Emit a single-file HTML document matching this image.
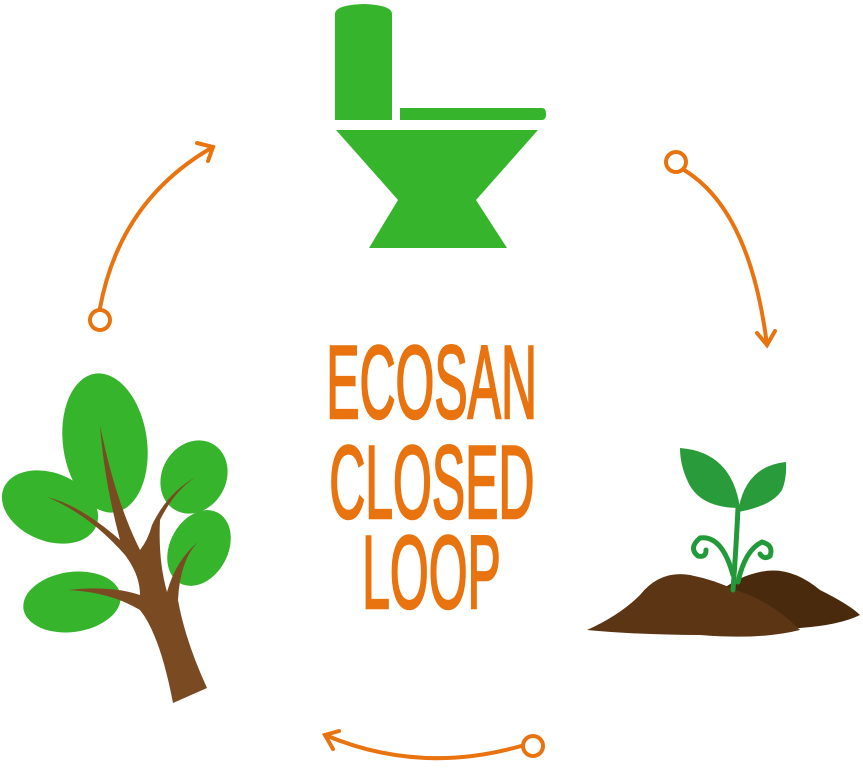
<!DOCTYPE html>
<html><head><style>
html,body{margin:0;padding:0;background:#fff;}
body{width:863px;height:770px;position:relative;overflow:hidden;}
.t{position:absolute;left:0;width:863px;text-align:center;font-family:"Liberation Sans",sans-serif;font-weight:normal;color:#e8730f;font-size:104px;line-height:1;-webkit-text-stroke:2.5px #e8730f;}
.t span{display:inline-block;transform:scaleX(0.48);transform-origin:center;}
</style></head><body>
<svg width="863" height="770" style="position:absolute;left:0;top:0">
<!-- toilet -->
<g fill="#36b52c">
<path d="M335,14 Q335,5 364,4 Q392,5 392,14 L392,120 L335,120 Z"/>
<path d="M400,108 L542,108 Q546,108 546,114 Q546,120 542,120 L400,120 Z"/>
<path d="M336,130 L538,130 L476,200 L507,248 L369,248 L398,200 Z"/>
</g>
<!-- arrows -->
<g fill="none" stroke="#e8730f" stroke-width="4" stroke-linecap="round">
<path d="M100,308 Q120,200 213,147"/>
<path d="M197,143 L213,147 L208,161"/>
<circle cx="100" cy="320" r="10" fill="#fff"/>
<path d="M684,170 Q750,210 767,345"/>
<path d="M757,333 L767,345 L775,331"/>
<circle cx="676" cy="162" r="10" fill="#fff"/>
<path d="M521,746 Q420,775 325,735"/>
<path d="M339,731 L325,735 L333,749"/>
<circle cx="533" cy="746" r="10" fill="#fff"/>
</g>
<!-- tree -->
<g fill="#36b52c">
<ellipse cx="105" cy="443" rx="42" ry="70" transform="rotate(-8 105 443)"/>
<ellipse cx="50" cy="507" rx="50" ry="34" transform="rotate(22 50 507)"/>
<ellipse cx="194" cy="477" rx="32" ry="38" transform="rotate(30 194 477)"/>
<ellipse cx="199" cy="548" rx="29" ry="40" transform="rotate(28 199 548)"/>
<ellipse cx="72" cy="602" rx="49" ry="30" transform="rotate(-8 72 602)"/>
</g>
<g fill="#7a4a22">
<path d="M173,703 L207,688 Q185,640 178,600 Q180,560 198,542 Q176,560 167,592 Q158,560 160,520 Q175,490 196,477 Q168,492 152,525 Q148,540 140,550 Q115,500 100,425 Q104,480 120,540 Q80,505 47,497 Q90,515 125,555 Q140,575 140,595 Q110,585 68,590 Q110,592 140,610 Q160,635 173,703 Z"/>
</g>
<!-- plant -->
<path d="M690,625 Q720,580 760,572 Q790,565 820,590 Q850,605 860,615 Q840,625 800,628 Z" fill="#4a2a0c"/>
<path d="M587,630 Q620,615 640,595 Q660,570 690,575 Q715,580 735,590 Q770,600 800,630 Q760,640 700,635 Q640,635 587,630 Z" fill="#5c3514"/>
<g fill="none" stroke="#229a3a" stroke-width="5" stroke-linecap="round">
<path d="M733,590 Q736,550 738,508"/>
<path d="M733,575 Q722,535 700,538 Q688,548 698,556 Q706,558 706,550"/>
<path d="M738,582 Q745,550 762,542 Q774,545 770,556 Q764,560 760,554"/>
</g>
<path d="M680,448 Q732,452 740,508 Q700,508 688,482 Q680,465 680,448 Z" fill="#2a9b3a"/>
<path d="M786,462 Q745,466 738,512 Q772,506 782,490 Q787,478 786,462 Z" fill="#2a9b3a"/>
</svg>
<div class="t" style="top:331px"><span>ECOSAN</span></div>
<div class="t" style="top:431px"><span>CLOSED</span></div>
<div class="t" style="top:521px"><span>LOOP</span></div>
</body></html>
